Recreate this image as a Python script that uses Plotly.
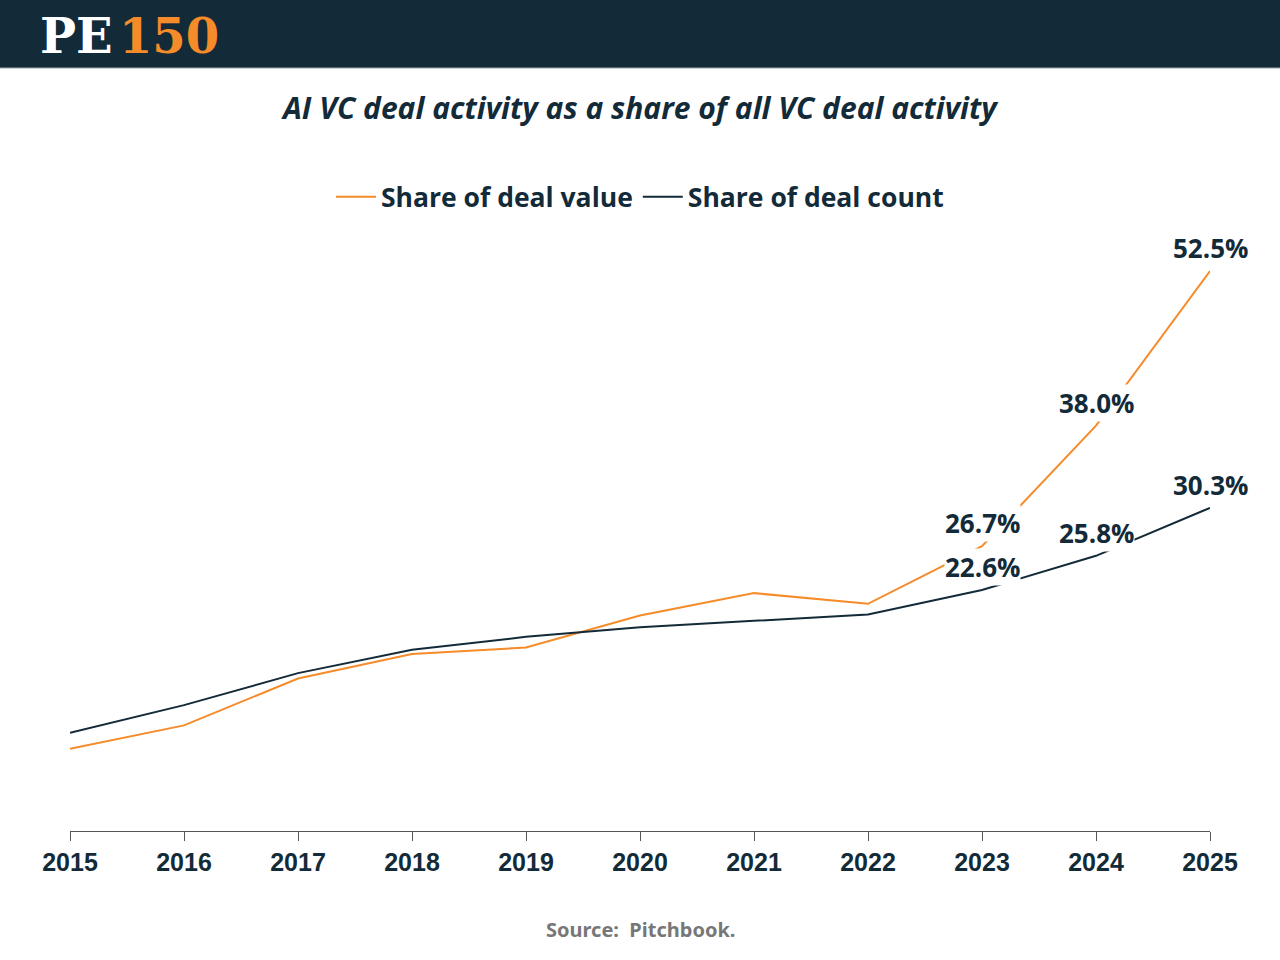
import plotly.graph_objects as go

years = [2015, 2016, 2017, 2018, 2019, 2020, 2021, 2022, 2023, 2024, 2025]
deal_value_share = [7.7, 9.9, 14.3, 16.6, 17.2, 20.2, 22.3, 21.3, 26.7, 38.0, 52.5]
deal_count_share = [9.2, 11.8, 14.8, 17.0, 18.2, 19.1, 19.7, 20.3, 22.6, 25.8, 30.3]
labeled_years = [2023, 2024, 2025]

NAVY = "#132a38"
ORANGE = "#f68b29"

W, H = 1280, 960
ML, MR, MT, MB = 70, 70, 240, 129
plot_w = W - ML - MR
plot_h = H - MT - MB


def px_x(px):
    return (px - ML) / plot_w


def px_y(py):
    return (H - MB - py) / plot_h


fig = go.Figure()
fig.add_trace(go.Scatter(x=years, y=deal_value_share, mode="lines", name="Share of deal value",
                         line=dict(color=ORANGE, width=2)))
fig.add_trace(go.Scatter(x=years, y=deal_count_share, mode="lines", name="Share of deal count",
                         line=dict(color=NAVY, width=2)))

for series in (deal_value_share, deal_count_share):
    for x, y in zip(years, series):
        if x in labeled_years:
            fig.add_annotation(x=x, y=y, xref="x", yref="y", text=f"{y:.1f}%",
                               showarrow=False, yshift=23, bgcolor="white", borderpad=0,
                               font=dict(family="Open Sans", size=26, color=NAVY, weight=700))

fig.update_layout(
    width=W, height=H,
    margin=dict(l=ML, r=MR, t=MT, b=MB),
    paper_bgcolor="white", plot_bgcolor="white",
    showlegend=True,
    legend=dict(orientation="h", x=0.5, xanchor="center", y=1 - 197 / H, yref="container",
                yanchor="middle",
                font=dict(family="Open Sans", size=26.5, color=NAVY, weight=700),
                itemwidth=40, bgcolor="rgba(0,0,0,0)"),
    xaxis=dict(range=[2015, 2025], tickvals=years, ticktext=[str(y) for y in years],
               showgrid=False, zeroline=False, showline=True, linecolor="#555", linewidth=1,
               ticks="outside", ticklen=9, tickcolor="#555", tickwidth=1,
               tickfont=dict(family="Liberation Sans, Arial", size=25,
                             color=NAVY, weight=700)),
    yaxis=dict(range=[0, plot_h / (560 / 52.5)], visible=False, showgrid=False, zeroline=False),
)

fig.add_shape(type="rect", xref="paper", yref="paper", x0=px_x(0), x1=px_x(W),
              y0=px_y(68), y1=px_y(0), fillcolor=NAVY, line=dict(width=0), layer="below")
fig.add_shape(type="line", xref="paper", yref="paper", x0=px_x(0), x1=px_x(W),
              y0=px_y(68), y1=px_y(68), line=dict(color="#9aa6ae", width=1))
fig.add_annotation(x=px_x(38), y=px_y(36), xref="paper", yref="paper", xanchor="left",
                   yanchor="middle", showarrow=False,
                   text=("<span style='color:white'>PE</span><span style='font-size:18px'> </span>"
                         "<span style='color:#f68b29'>150</span>"),
                   font=dict(family="DejaVu Serif", size=48, weight=700))
fig.add_annotation(x=0.5, y=px_y(107), xref="paper", yref="paper", xanchor="center",
                   yanchor="middle", showarrow=False,
                   text="<i>AI VC deal activity as a share of all VC deal activity</i>",
                   font=dict(family="Open Sans", size=30, color=NAVY, weight=700))
fig.add_annotation(x=0.5, y=px_y(929), xref="paper", yref="paper", xanchor="center",
                   yanchor="middle", showarrow=False, text="Source:  Pitchbook.",
                   font=dict(family="Noto Sans", size=20, color="#777777", weight=700))

fig.write_html("out.html", config={"displayModeBar": False},
               post_script="document.body.style.margin='0';document.body.style.padding='0';")
